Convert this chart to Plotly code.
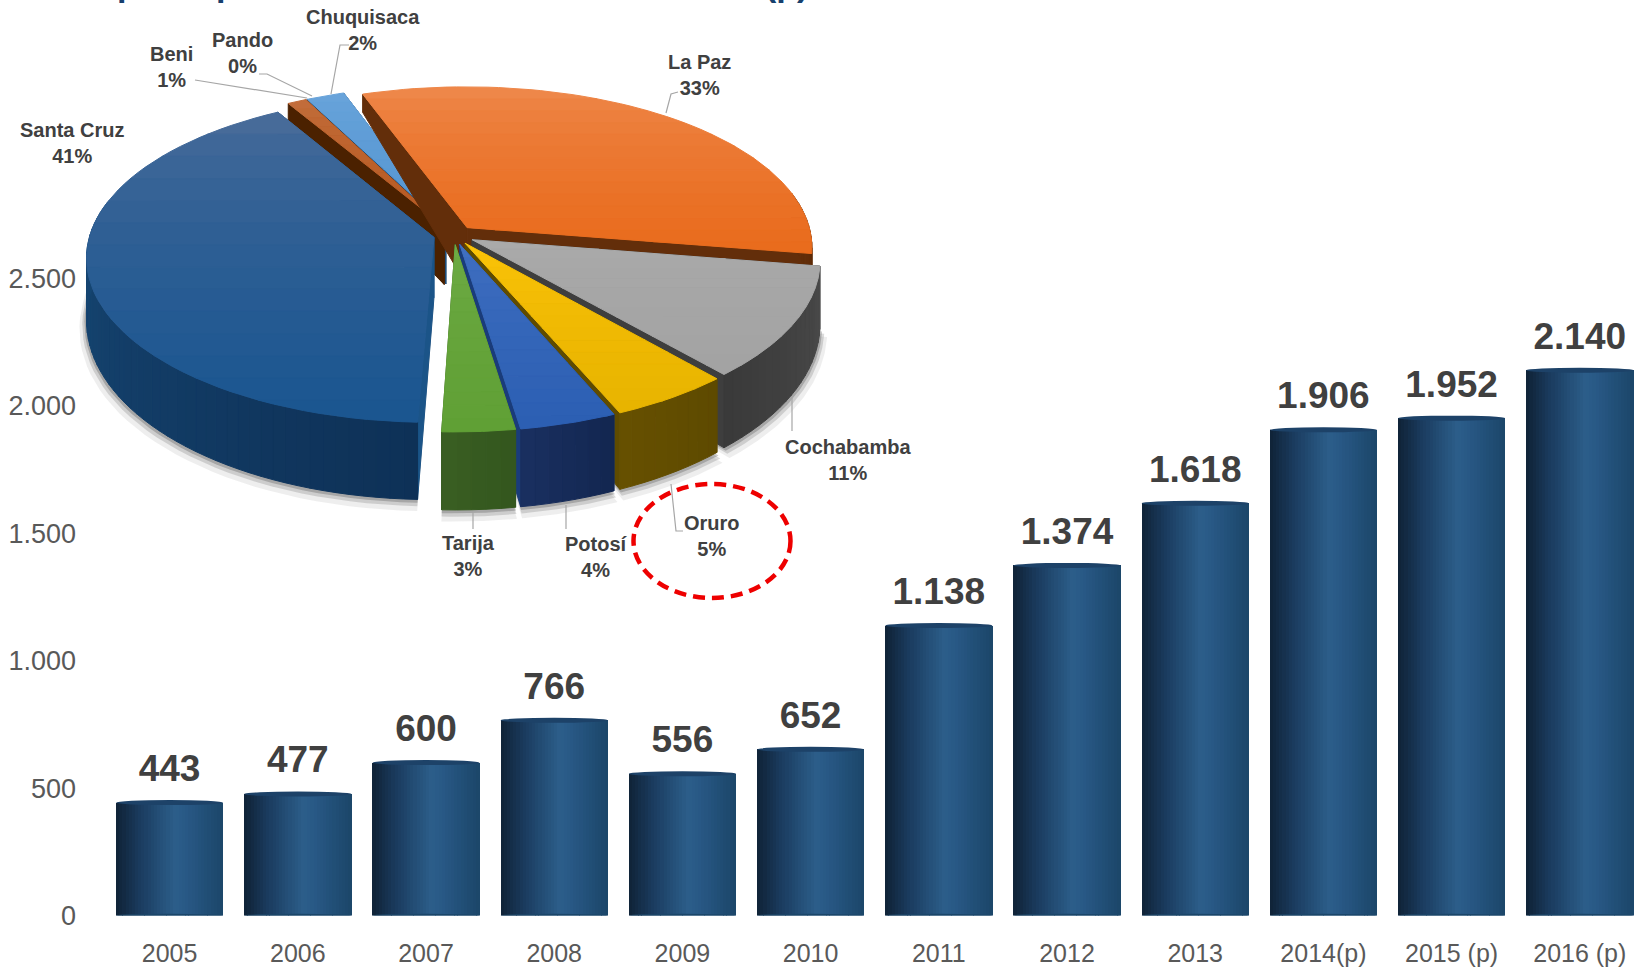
import math
import plotly.graph_objects as go

# ---------- data ----------
years = ["2005", "2006", "2007", "2008", "2009", "2010", "2011", "2012", "2013", "2014(p)", "2015 (p)", "2016 (p)"]
export_values = [443, 477, 600, 766, 556, 652, 1138, 1374, 1618, 1906, 1952, 2140]
y_ticks = [0, 500, 1000, 1500, 2000, 2500]

departments = ["La Paz", "Cochabamba", "Oruro", "Potosí", "Tarija", "Santa Cruz", "Beni", "Pando", "Chuquisaca"]
shares = [33, 11, 5, 4, 3, 41, 1, 0, 2]

# ---------- styling ----------
W, H = 1642, 970
FONT = "Liberation Sans, Arial, sans-serif"
PX_BASE, PX_LEFT, PX_PER_CAT, PX_X0 = 915.5, 85, 128.2, 169.6
PX_PER_UNIT = 0.2548
BAR_W = 0.835

top_colors = {
    "La Paz": ("#EF8C52", "#E96B1C"),
    "Cochabamba": ("#ABABAB", "#A3A3A3"),
    "Oruro": ("#FFC60A", "#E8B400"),
    "Potosí": ("#4472C4", "#2C5FB3"),
    "Tarija": ("#70AD47", "#60A035"),
    "Santa Cruz": ("#4F6F9B", "#1A5590"),
    "Beni": ("#C4703E", "#B85A22"),
    "Pando": ("#9E480E", "#9E480E"),
    "Chuquisaca": ("#6CA6DC", "#5596D2"),
}
rim_colors = {
    "La Paz": ("#7A3A10", "#5F2C08"),
    "Cochabamba": ("#4A4A4A", "#3A3A3A"),
    "Oruro": ("#5E4A00", "#665000"),
    "Potosí": ("#122650", "#1A3060"),
    "Tarija": ("#33561E", "#3A5F22"),
    "Santa Cruz": ("#0E3157", "#1B5384"),
    "Beni": ("#4B2100", "#4B2100"),
    "Pando": ("#4B2100", "#4B2100"),
    "Chuquisaca": ("#1F4E79", "#1F4E79"),
}
side_colors = {
    "La Paz": "#632E0A", "Cochabamba": "#3E3E3E", "Oruro": "#5F4B00", "Potosí": "#1A3C7A",
    "Tarija": "#3A5F22", "Santa Cruz": "#1B5488", "Beni": "#4B2100", "Pando": "#4B2100",
    "Chuquisaca": "#1F4E79",
}
label_pos = {
    "La Paz": (699, 75), "Cochabamba": (848, 460), "Oruro": (712, 536), "Potosí": (596, 557),
    "Tarija": (468, 556), "Santa Cruz": (72, 143), "Beni": (171, 67), "Pando": (242, 53),
    "Chuquisaca": (363, 30),
}
leaders = [
    [(678, 92), (671, 94), (666, 113)],
    [(792, 396), (792, 431)],
    [(671, 484), (676, 531), (683, 531)],
    [(566, 505), (566, 529)],
    [(473, 511), (473, 529)],
    [(195, 80), (307, 98)],
    [(259, 74), (267, 74), (312, 96)],
    [(349, 45), (340, 45), (331, 94)],
]

# pie projection
CX, CY, RX, RY, KX, KY, DEPTH, EXPLODE, START = 454, 235, 344, 160.6, 0.12, 0.128, 77, 0.06, -19.6


def hex2rgb(c):
    return tuple(int(c[i:i + 2], 16) for i in (1, 3, 5))


def mix(a, b, t):
    t = max(0.0, min(1.0, t))
    ra, rb = hex2rgb(a), hex2rgb(b)
    return "rgb(%d,%d,%d)" % tuple(round(ra[i] + (rb[i] - ra[i]) * t) for i in range(3))


def project(u, v, z=0.0):
    dx, dy = 1 - KX * v, 1 - KY * v
    wall = DEPTH * (0.78 + (0.22 * v if v >= 0 else 0.55 * v))
    return CX + RX * u / dx, CY + RY * v / dy + z * wall


def sector_points(a0, a1, ox, oy, z=0.0, n=60, r=1.0):
    pts = [project(ox, oy, z)]
    for i in range(n + 1):
        a = math.radians(a0 + (a1 - a0) * i / n)
        pts.append(project(ox + r * math.sin(a), oy - r * math.cos(a), z))
    return pts


def clip_band(pts, y0, y1):
    def clip(points, keep, cross):
        out = []
        for i, p in enumerate(points):
            q = points[(i + 1) % len(points)]
            if keep(p):
                out.append(p)
            if keep(p) != keep(q):
                out.append(cross(p, q))
        return out

    def cross_at(yc):
        return lambda p, q: (p[0] + (q[0] - p[0]) * (yc - p[1]) / (q[1] - p[1]), yc)

    res = clip(pts, lambda p: p[1] >= y0, cross_at(y0))
    if res:
        res = clip(res, lambda p: p[1] <= y1, cross_at(y1))
    return res


fig = go.Figure()


def poly(pts, color, line=True):
    xs = [p[0] for p in pts] + [pts[0][0]]
    ys = [p[1] for p in pts] + [pts[0][1]]
    fig.add_trace(go.Scatter(
        x=xs, y=ys, xaxis="x2", yaxis="y2", mode="lines", fill="toself", fillcolor=color,
        line=dict(color=color if line else "rgba(0,0,0,0)", width=1),
        hoverinfo="skip", showlegend=False))


# ---------- cylinder-like bars: vertical strips of one bar series ----------
stops = [(0, "#0F2236"), (0.22, "#1A3B5E"), (0.55, "#2C5E8A"), (0.66, "#285885"), (1, "#1B4669")]
N_STRIPS = 34


def bar_color(t):
    for (t0, c0), (t1, c1) in zip(stops, stops[1:]):
        if t <= t1:
            return mix(c0, c1, (t - t0) / (t1 - t0))
    return stops[-1][1]


xpos = list(range(len(years)))
sw = BAR_W / N_STRIPS
for s in range(N_STRIPS):
    fig.add_trace(go.Bar(
        x=xpos, y=export_values, width=sw * 1.06, offset=-BAR_W / 2 + s * sw,
        marker=dict(color=bar_color((s + 0.5) / N_STRIPS), line=dict(width=0)),
        hoverinfo="skip", showlegend=False))

shapes = []
cap = 2.5 / PX_PER_UNIT
for i, v in enumerate(export_values):
    shapes.append(dict(type="circle", xref="x", yref="y", layer="above",
                       x0=i - BAR_W / 2, x1=i + BAR_W / 2, y0=v - cap, y1=v + cap,
                       fillcolor="#1D4268", line=dict(width=0)))
    shapes.append(dict(type="circle", xref="x", yref="y", layer="above",
                       x0=i - BAR_W / 2, x1=i + BAR_W / 2, y0=-cap * 0.7, y1=cap * 0.7,
                       fillcolor="#1B4669", line=dict(width=0)))

fig.add_trace(go.Scatter(
    x=xpos, y=export_values, mode="markers+text",
    text=[f"{v:,}".replace(",", ".") for v in export_values],
    textposition="top center",
    marker=dict(size=18, opacity=0),
    textfont=dict(family=FONT, size=37, color="#404040", weight="bold"),
    hoverinfo="skip", showlegend=False))

# ---------- exploded 3D pie, built from the shares ----------
total = sum(shares)
slices, ang = [], START
for name, sh in zip(departments, shares):
    a0, a1 = ang, ang + sh / total * 360
    ang = a1
    mid = math.radians((a0 + a1) / 2)
    ox, oy = EXPLODE * math.sin(mid), -EXPLODE * math.cos(mid)
    slices.append(dict(name=name, a0=a0, a1=a1, ox=ox, oy=oy, vm=oy + 0.6 * -math.cos(mid)))

# soft shadow
for grow, dy, alpha in [(1.02, 7, 0.08), (1.012, 4, 0.16), (1.006, 2, 0.24)]:
    for s in slices:
        if s["a1"] > s["a0"] and -math.cos(math.radians((s["a0"] + s["a1"]) / 2)) > -0.35:
            pts = sector_points(s["a0"], s["a1"], s["ox"], s["oy"], 1.0, r=grow)
            poly([(x, y + dy) for x, y in pts], "rgba(40,40,40,%.2f)" % alpha, line=False)

for s in sorted(slices, key=lambda q: q["vm"]):
    if s["a1"] <= s["a0"]:
        continue
    nm, a0, a1, ox, oy = s["name"], s["a0"], s["a1"], s["ox"], s["oy"]
    # radial walls
    for a in (a0, a1):
        r = math.radians(a)
        e = (ox + math.sin(r), oy - math.cos(r))
        poly([project(ox, oy, 0), project(*e, 0), project(*e, 1), project(ox, oy, 1)], side_colors[nm])
    # outer wall in vertical strips
    n = max(3, int((a1 - a0) / 2))
    for i in range(n):
        b0 = a0 + (a1 - a0) * i / n
        b1 = a0 + (a1 - a0) * (i + 1) / n
        r0, r1 = math.radians(b0), math.radians(b1)
        p0 = (ox + math.sin(r0), oy - math.cos(r0))
        p1 = (ox + math.sin(r1), oy - math.cos(r1))
        if -math.cos(r0) < -0.2 and -math.cos(r1) < -0.2:
            continue
        t = (i + 0.5) / n
        poly([project(*p0, 0), project(*p1, 0), project(*p1, 1), project(*p0, 1)],
             mix(rim_colors[nm][0], rim_colors[nm][1], t))
    # top face in horizontal colour bands
    pts = sector_points(a0, a1, ox, oy)
    ys = [p[1] for p in pts]
    ymin, ymax = min(ys), max(ys)
    bands = 14
    for b in range(bands):
        y0 = ymin + (ymax - ymin) * b / bands
        y1 = ymin + (ymax - ymin) * (b + 1) / bands
        part = clip_band(pts, y0, y1)
        if len(part) >= 3:
            tt = ((b + 0.5) / bands) ** 0.55
            poly(part, mix(top_colors[nm][0], top_colors[nm][1], tt))

# leader lines
for seg in leaders:
    fig.add_trace(go.Scatter(x=[p[0] for p in seg], y=[p[1] for p in seg], xaxis="x2", yaxis="y2",
                             mode="lines", line=dict(color="#A6A6A6", width=1.2),
                             hoverinfo="skip", showlegend=False))

annotations = []
for name, sh in zip(departments, shares):
    lx, ly = label_pos[name]
    annotations.append(dict(xref="x2", yref="y2", x=lx, y=ly, showarrow=False, align="center",
                            text=f"<b>{name}<br>{sh}%</b>",
                            font=dict(family=FONT, size=20, color="#404040")))
# the cut-off heading at the very top of the picture (only descenders are visible)
for tx, txt in [(127, "p"), (226, "p"), (786, "(p)")]:
    annotations.append(dict(xref="x2", yref="y2", x=tx, y=0, yanchor="bottom", yshift=-5, showarrow=False,
                            text=f"<b>{txt}</b>", font=dict(family=FONT, size=34, color="#17406D")))

shapes.append(dict(type="circle", xref="x2", yref="y2", layer="above", x0=633.5, x1=790.5, y0=484, y1=598,
                   fillcolor="rgba(0,0,0,0)", line=dict(color="#EE0000", width=4.5, dash="12px,7px")))

fig.update_layout(
    width=W, height=H, margin=dict(l=0, r=0, t=0, b=0, pad=0), autosize=False,
    paper_bgcolor="white", plot_bgcolor="rgba(0,0,0,0)", barmode="overlay", bargap=0,
    separators=",.", showlegend=False, shapes=shapes, annotations=annotations,
    font=dict(family=FONT, color="#595959"),
    xaxis=dict(domain=[PX_LEFT / W, 1], anchor="y", automargin=False,
               range=[(PX_LEFT - PX_X0) / PX_PER_CAT, (W - PX_X0) / PX_PER_CAT],
               tickmode="array", tickvals=xpos, ticktext=years, ticks="", showgrid=False, zeroline=False,
               showline=False, ticklabelstandoff=20, tickfont=dict(family=FONT, size=25, color="#595959")),
    yaxis=dict(domain=[(H - PX_BASE) / H, 1], anchor="x", automargin=False,
               range=[0, PX_BASE / PX_PER_UNIT], tickmode="array", tickvals=y_ticks, tickformat=",d",
               ticks="", showgrid=False, zeroline=False, showline=False, ticklabelstandoff=8,
               tickfont=dict(family=FONT, size=27, color="#595959")),
    xaxis2=dict(domain=[0, 1], anchor="y2", range=[0, W], visible=False, automargin=False),
    yaxis2=dict(domain=[0, 1], anchor="x2", range=[H, 0], visible=False, automargin=False),
)
fig.write_html("out.html", config=dict(displayModeBar=False),
               post_script="document.body.style.margin='0';document.documentElement.style.overflow='hidden';")
